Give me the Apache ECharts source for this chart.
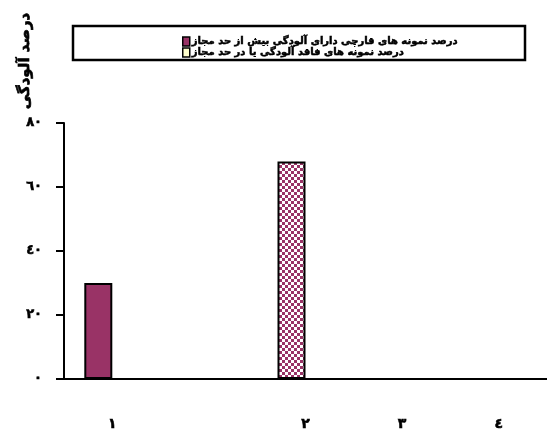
<!DOCTYPE html>
<html><head><meta charset="utf-8">
<script src="https://cdn.jsdelivr.net/npm/echarts@6/dist/echarts.min.js"></script>
<style>html,body{margin:0;padding:0;background:#fff}#c{width:547px;height:432px}</style>
</head><body><div id="c"></div>
<script>
var categories = ['١', '', '٢', '٣', '٤'];
var seriesNames = ['درصد نمونه های قارچی دارای آلودگی بیش از حد مجاز', 'درصد نمونه های فاقد آلودگی یا در حد مجاز'];
var contaminated = [30, '-', 68, '-', '-'];
var clean = ['-', '-', '-', '-', '-'];
var yTickLabels = ['٠', '٢٠', '٤٠', '٦٠', '٨٠'];
var yAxisTitle = 'درصد آلودگی';

var maroon = '#993366';
var cv = document.createElement('canvas');
cv.width = 6; cv.height = 6;
var cx = cv.getContext('2d');
cx.fillStyle = '#ffffff'; cx.fillRect(0, 0, 6, 6);
cx.fillStyle = maroon; cx.fillRect(0, 0, 3, 3); cx.fillRect(3, 3, 3, 3);

var font = 'DejaVu Sans';
var chart = echarts.init(document.getElementById('c'));
var data1 = contaminated.map(function (v, i) {
  if (i === 2) return { value: v, itemStyle: { color: { image: cv, repeat: 'repeat' } } };
  return v;
});
chart.setOption({
  animation: false,
  grid: { left: 64, right: 0, top: 123, bottom: 53 },
  graphic: [
    { type: 'rect', shape: { x: 73, y: 26, width: 452, height: 34 }, style: { fill: 'none', stroke: '#000', lineWidth: 2.5 } },
    { type: 'text', x: 25, y: 61, rotation: Math.PI / 2, style: { text: yAxisTitle, font: 'bold 15px "' + font + '"', fill: '#000', stroke: '#000', lineWidth: 0.7, align: 'center', verticalAlign: 'middle' } }
  ],
  legend: {
    orient: 'vertical', left: 177, top: 31, itemGap: 0, itemWidth: 7, itemHeight: 9, icon: 'rect',
    itemStyle: { borderColor: '#000', borderWidth: 1.5 },
    textStyle: { fontFamily: font, fontWeight: 'bold', fontSize: 10, lineHeight: 11, color: '#000', textBorderColor: '#000', textBorderWidth: 0.5, padding: [0, 0, 0, -3] },
    data: seriesNames
  },
  xAxis: {
    type: 'category', data: categories,
    axisLine: { lineStyle: { color: '#000', width: 2 } },
    axisTick: { length: 7, lineStyle: { color: '#000', width: 2 } },
    axisLabel: { margin: 38, fontFamily: font, fontWeight: 'bold', fontSize: 14, color: '#000', textBorderColor: '#000', textBorderWidth: 0.6, interval: 0 }
  },
  yAxis: {
    type: 'value', min: 0, max: 80, interval: 20,
    splitLine: { show: false },
    axisLine: { show: true, lineStyle: { color: '#000', width: 2 } },
    axisTick: { show: true, length: 8, lineStyle: { color: '#000', width: 2 } },
    axisLabel: { margin: 22, fontFamily: font, fontWeight: 'bold', fontSize: 13, color: '#000', textBorderColor: '#000', textBorderWidth: 0.6,
      formatter: function (v) { return yTickLabels[Math.round(v / 20)]; } }
  },
  series: [
    { name: seriesNames[0], type: 'bar', data: data1, barWidth: 28, barGap: '0%',
      itemStyle: { color: maroon, borderColor: '#000', borderWidth: 2 } },
    { name: seriesNames[1], type: 'bar', data: clean, barWidth: 28,
      itemStyle: { color: '#FFFFCC', borderColor: '#000', borderWidth: 2 } }
  ]
});
</script></body></html>
